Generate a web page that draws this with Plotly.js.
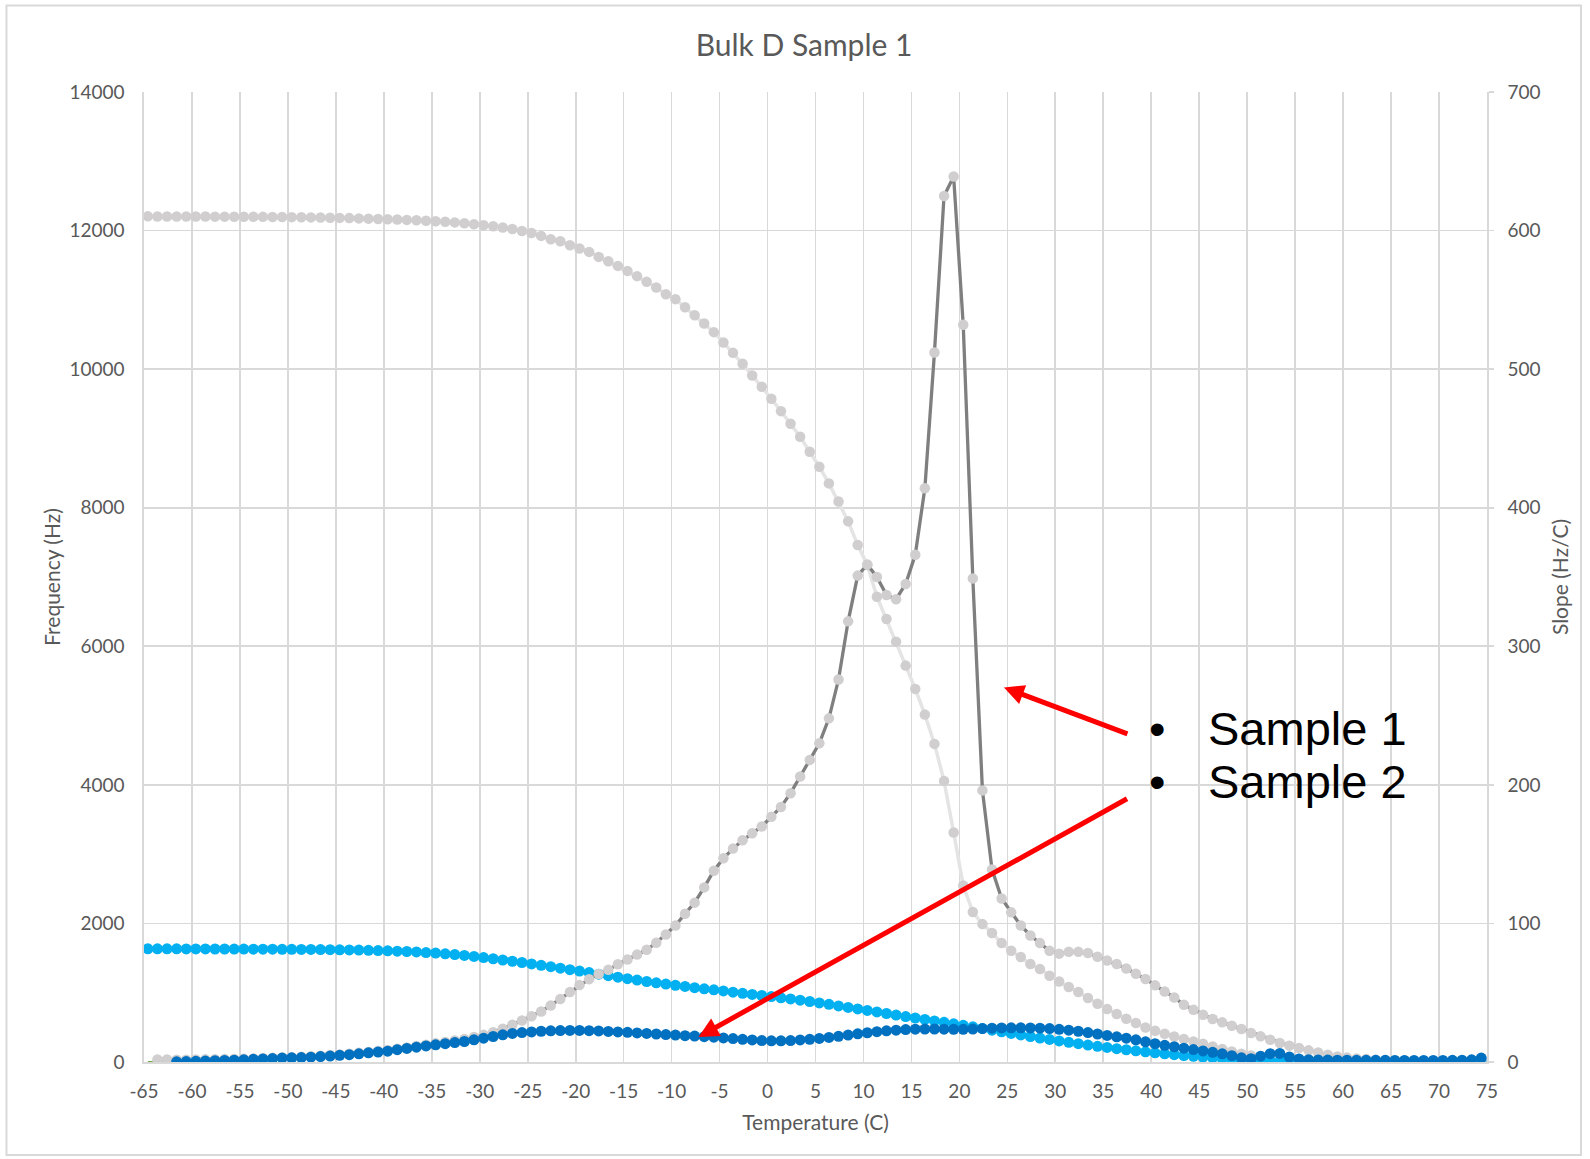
<!DOCTYPE html>
<html>
<head>
<meta charset="utf-8">
<script src="https://cdn.plot.ly/plotly-3.0.1.min.js"></script>
<style>
  html, body { margin: 0; padding: 0; background: #ffffff; }
  #chart { width: 1590px; height: 1159px; }
</style>
</head>
<body>
<div id="chart"></div>
<script>
// ---------------- data ----------------
const temperature = [
  -64.6,-63.6,-62.6,-61.6,-60.6,-59.6,-58.6,-57.6,-56.6,-55.6,
  -54.6,-53.6,-52.6,-51.6,-50.6,-49.6,-48.6,-47.6,-46.6,-45.6,
  -44.6,-43.6,-42.6,-41.6,-40.6,-39.6,-38.6,-37.6,-36.6,-35.6,
  -34.6,-33.6,-32.6,-31.6,-30.6,-29.6,-28.6,-27.6,-26.6,-25.6,
  -24.6,-23.6,-22.6,-21.6,-20.6,-19.6,-18.6,-17.6,-16.6,-15.6,
  -14.6,-13.6,-12.6,-11.6,-10.6,-9.6,-8.6,-7.6,-6.6,-5.6,
  -4.6,-3.6,-2.6,-1.6,-0.6,0.4,1.4,2.4,3.4,4.4,
  5.4,6.4,7.4,8.4,9.4,10.4,11.4,12.4,13.4,14.4,
  15.4,16.4,17.4,18.4,19.4,20.4,21.4,22.4,23.4,24.4,
  25.4,26.4,27.4,28.4,29.4,30.4,31.4,32.4,33.4,34.4,
  35.4,36.4,37.4,38.4,39.4,40.4,41.4,42.4,43.4,44.4,
  45.4,46.4,47.4,48.4,49.4,50.4,51.4,52.4,53.4,54.4,
  55.4,56.4,57.4,58.4,59.4,60.4,61.4,62.4,63.4,64.4,
  65.4,66.4,67.4,68.4,69.4,70.4,71.4,72.4,73.4,74.4
];

// Sample 1 frequency (Hz), left axis
const freqSample1 = [
  12205,12204,12204,12203,12203,12202,12202,12201,12201,12200,
  12200,12199,12198,12197,12196,12194,12192,12190,12188,12186,
  12183,12180,12176,12172,12168,12164,12159,12154,12148,12142,
  12135,12127,12118,12106,12092,12077,12063,12044,12022,11995,
  11966,11923,11875,11846,11789,11741,11692,11620,11558,11490,
  11418,11342,11260,11179,11082,11010,10894,10779,10659,10534,
  10385,10235,10077,9909,9745,9572,9394,9211,9024,8807,
  8591,8351,8090,7803,7462,7174,6716,6394,6067,5721,
  5385,5014,4591,4057,3312,2547,2164,1990,1861,1717,
  1606,1515,1414,1341,1245,1163,1082,1010,923,841,
  764,692,625,563,499,451,408,369,332,297,
  264,225,188,153,120,95,81,62,48,36,
  26,18,12,8,5,3,2,1,1,1,
  1,1,1,1,1,1,1,1,1,1
];

// Sample 1 slope (Hz/C), right axis
const slopeSample1 = [
  null,1.8,1.8,1.7,1.7,1.8,1.9,2.0,2.1,2.2,
  2.4,2.6,2.8,3.0,3.3,3.5,3.8,4.1,4.5,5.0,
  5.5,6.0,6.6,7.3,8.0,8.7,9.6,10.5,11.5,12.5,
  13.5,14.5,15.5,16.6,18.0,19.6,21.5,24.0,26.9,30.0,
  33.0,36.5,40.8,45.5,50.5,55.5,59.8,63.5,66.5,70.5,
  74.0,77.5,81.0,86.0,92.0,98.5,107,115,126,138,
  147,154,160,165,170,177,184,194,206,218,
  230,248,276,318,351,359,350,337,334,345,
  366,414,512,625,639,532,349,196,139,118,
  108,98.5,91.3,85.8,80.3,78.2,79.5,79.5,78.6,76,
  73.2,70.7,67.5,63.7,59.9,55.3,50.9,46.6,41.3,37.7,
  34.1,31,28.6,26.2,23.8,20.9,18.5,16.1,13.7,11.8,
  10.1,8.4,6.9,5.3,4.0,3.3,2.6,2.1,1.7,1.4,
  1.2,1.0,0.9,0.8,0.7,0.6,0.6,0.5,0.5,0.5
];

// Sample 2 frequency (Hz), left axis
const freqSample2 = [
  1634,1634,1633,1633,1632,1632,1632,1631,1631,1630,
  1630,1629,1629,1628,1627,1626,1625,1624,1622,1621,
  1619,1617,1615,1612,1609,1605,1600,1595,1588,1580,
  1572,1562,1550,1538,1524,1508,1490,1472,1454,1436,
  1416,1396,1375,1354,1333,1312,1290,1268,1246,1224,
  1202,1182,1162,1143,1125,1107,1090,1073,1057,1041,
  1025,1008,992,976,960,944,927,910,892,873,
  853,832,810,788,766,744,722,700,678,656,
  635,614,593,572,551,530,508,484,460,436,
  412,390,368,346,325,304,284,264,245,227,
  210,193,177,162,147,133,119,106,94,82,
  71,60,50,41,33,26,20,15,11,8,
  6,4,3,3,2,2,2,1,1,1,
  1,1,1,1,1,1,1,1,1,1
];

// Sample 2 slope (Hz/C), right axis
const slopeSample2 = [
  null,null,null,0.1,0.3,0.5,0.7,0.9,1.1,1.3,
  1.6,1.9,2.2,2.5,2.8,3.0,3.2,3.5,3.9,4.3,
  4.8,5.3,5.9,6.6,7.2,7.8,8.9,9.8,10.7,11.6,
  12.4,13.2,14.0,14.8,16.0,17.2,18.4,19.6,20.6,21.2,
  21.7,22.2,22.5,22.7,22.8,22.8,22.6,22.4,22.1,21.7,
  21.4,21.0,20.6,20.2,19.8,19.4,19.0,18.7,18.3,17.9,
  17.4,16.9,16.4,15.9,15.5,15.3,15.3,15.5,15.9,16.4,
  17.0,17.7,18.5,19.4,20.3,21.1,21.9,22.5,23.0,23.4,
  23.7,23.8,23.8,23.7,23.6,23.6,23.8,24.1,24.4,24.6,
  24.7,24.7,24.6,24.4,24.1,23.6,23.0,22.2,21.2,20.2,
  19.2,18.2,17.2,16.0,14.6,13.2,12.0,11.0,10.0,9.0,
  8.0,7.0,5.9,4.6,3.0,2.4,4.2,6.0,6.2,3.6,
  2.2,1.7,1.5,1.4,1.3,1.3,1.2,1.2,1.2,1.2,
  1.1,1.1,1.1,1.1,1.1,1.1,1.2,1.3,1.6,2.8
];

// short green stub at the start of the x axis
const stubTemperature = [-64.6, -62.2];
const stubValue = [0, 0];

// tick labels
const xTickValues = [-65,-60,-55,-50,-45,-40,-35,-30,-25,-20,-15,-10,-5,0,5,10,15,20,25,30,35,40,45,50,55,60,65,70,75];
const xTickLabels = ['-65','-60','-55','-50','-45','-40','-35','-30','-25','-20','-15','-10','-5','0','5','10','15','20','25','30','35','40','45','50','55','60','65','70','75'];
const freqTickValues = [0,2000,4000,6000,8000,10000,12000,14000];
const slopeTickValues = [0,100,200,300,400,500,600,700];

// annotation texts
const calloutLabels = ['Sample 1', 'Sample 2'];

// ---------------- chart ----------------
const FONT = 'Lato, "Open Sans", sans-serif';
const TXT = '#595959';
const GRID = '#d9d9d9';
const CALLOUT_FONT = { family: '"Liberation Sans", Arial, sans-serif', size: 47, color: '#000000' };

const traces = [
  {
    x: stubTemperature, y: stubValue, type: 'scatter', mode: 'lines',
    line: { color: '#70ad47', width: 2 }, hoverinfo: 'skip', showlegend: false
  },
  {
    name: 'Sample 1 frequency', x: temperature, y: freqSample1, type: 'scatter', mode: 'lines+markers',
    line: { color: '#e4e4e4', width: 3.5 },
    marker: { color: '#d0cece', size: 10.5, line: { width: 0 } }, showlegend: false
  },
  {
    name: 'Sample 2 frequency', x: temperature, y: freqSample2, type: 'scatter', mode: 'lines+markers',
    line: { color: '#00b0f0', width: 3 },
    marker: { color: '#00b0f0', size: 11, line: { width: 0 } }, showlegend: false
  },
  {
    name: 'Sample 1 slope', x: temperature, y: slopeSample1, yaxis: 'y2', type: 'scatter', mode: 'lines+markers',
    line: { color: '#7f7f7f', width: 3.3 },
    marker: { color: '#d0cece', size: 10.5, line: { width: 0 } }, showlegend: false
  },
  {
    name: 'Sample 2 slope', x: temperature, y: slopeSample2, yaxis: 'y2', type: 'scatter', mode: 'lines+markers',
    line: { color: '#0070c0', width: 3 },
    marker: { color: '#0070c0', size: 11, line: { width: 0 } }, showlegend: false
  }
];

const layout = {
  width: 1590, height: 1159,
  paper_bgcolor: '#ffffff', plot_bgcolor: '#ffffff',
  margin: { l: 144, r: 103, t: 92, b: 97, pad: 0 },
  showlegend: false,
  title: {
    text: 'Bulk D Sample 1',
    font: { family: FONT, size: 30, color: TXT },
    x: 0.5057, xref: 'container', xanchor: 'center',
    y: 0.961, yref: 'container', yanchor: 'middle'
  },
  xaxis: {
    range: [-65, 75], tickmode: 'array', tickvals: xTickValues, ticktext: xTickLabels,
    showgrid: true, gridcolor: GRID, gridwidth: 1.7,
    showline: true, linecolor: GRID, linewidth: 1.7,
    zeroline: false, ticks: '', ticklabelstandoff: 11,
    tickfont: { family: FONT, size: 19, color: TXT },
    title: { text: 'Temperature (C)', font: { family: FONT, size: 21, color: TXT }, standoff: 15 }
  },
  yaxis: {
    range: [0, 14000], tickmode: 'array', tickvals: freqTickValues, tickformat: 'd',
    showgrid: true, gridcolor: GRID, gridwidth: 1.7,
    showline: true, linecolor: GRID, linewidth: 1.7,
    zeroline: false, ticks: '', ticklabelstandoff: 14,
    tickfont: { family: FONT, size: 19, color: TXT },
    title: { text: 'Frequency (Hz)', font: { family: FONT, size: 21, color: TXT }, standoff: 3 }
  },
  yaxis2: {
    range: [0, 700], overlaying: 'y', side: 'right', tickmode: 'array', tickvals: slopeTickValues,
    showgrid: false, showline: true, linecolor: GRID, linewidth: 1.7,
    zeroline: false, ticks: 'outside', ticklen: 5, tickcolor: GRID, tickwidth: 1.7,
    ticklabelstandoff: 10,
    tickfont: { family: FONT, size: 19, color: TXT },
    title: { text: 'Slope (Hz/C)', font: { family: FONT, size: 21, color: TXT }, standoff: 14 }
  },
  shapes: [
    { type: 'rect', xref: 'paper', yref: 'paper', x0: -0.1024, x1: 1.07, y0: -0.0959, y1: 1.0892,
      line: { color: '#d9d9d9', width: 2 }, fillcolor: 'rgba(0,0,0,0)', layer: 'below' }
  ],
  annotations: [
    { xref: 'paper', yref: 'paper', x: 0.6403, y: 0.3861, ax: 125, ay: 47, text: '',
      showarrow: true, arrowhead: 2, arrowsize: 0.8, arrowwidth: 5, arrowcolor: '#ff0000', standoff: 0 },
    { xref: 'paper', yref: 'paper', x: 0.4129, y: 0.0258, ax: 430, ay: -239, text: '',
      showarrow: true, arrowhead: 2, arrowsize: 0.8, arrowwidth: 5, arrowcolor: '#ff0000', standoff: 0 },
    { xref: 'paper', yref: 'paper', x: 0.7543, y: 0.3443, xanchor: 'center', yanchor: 'middle',
      text: '•', showarrow: false, font: CALLOUT_FONT },
    { xref: 'paper', yref: 'paper', x: 0.7543, y: 0.2887, xanchor: 'center', yanchor: 'middle',
      text: '•', showarrow: false, font: CALLOUT_FONT },
    { xref: 'paper', yref: 'paper', x: 0.7905, y: 0.3443, xanchor: 'left', yanchor: 'middle',
      text: calloutLabels[0], showarrow: false, font: CALLOUT_FONT },
    { xref: 'paper', yref: 'paper', x: 0.7905, y: 0.2887, xanchor: 'left', yanchor: 'middle',
      text: calloutLabels[1], showarrow: false, font: CALLOUT_FONT }
  ]
};

Plotly.newPlot('chart', traces, layout, { displayModeBar: false, staticPlot: true });
</script>
</body>
</html>
